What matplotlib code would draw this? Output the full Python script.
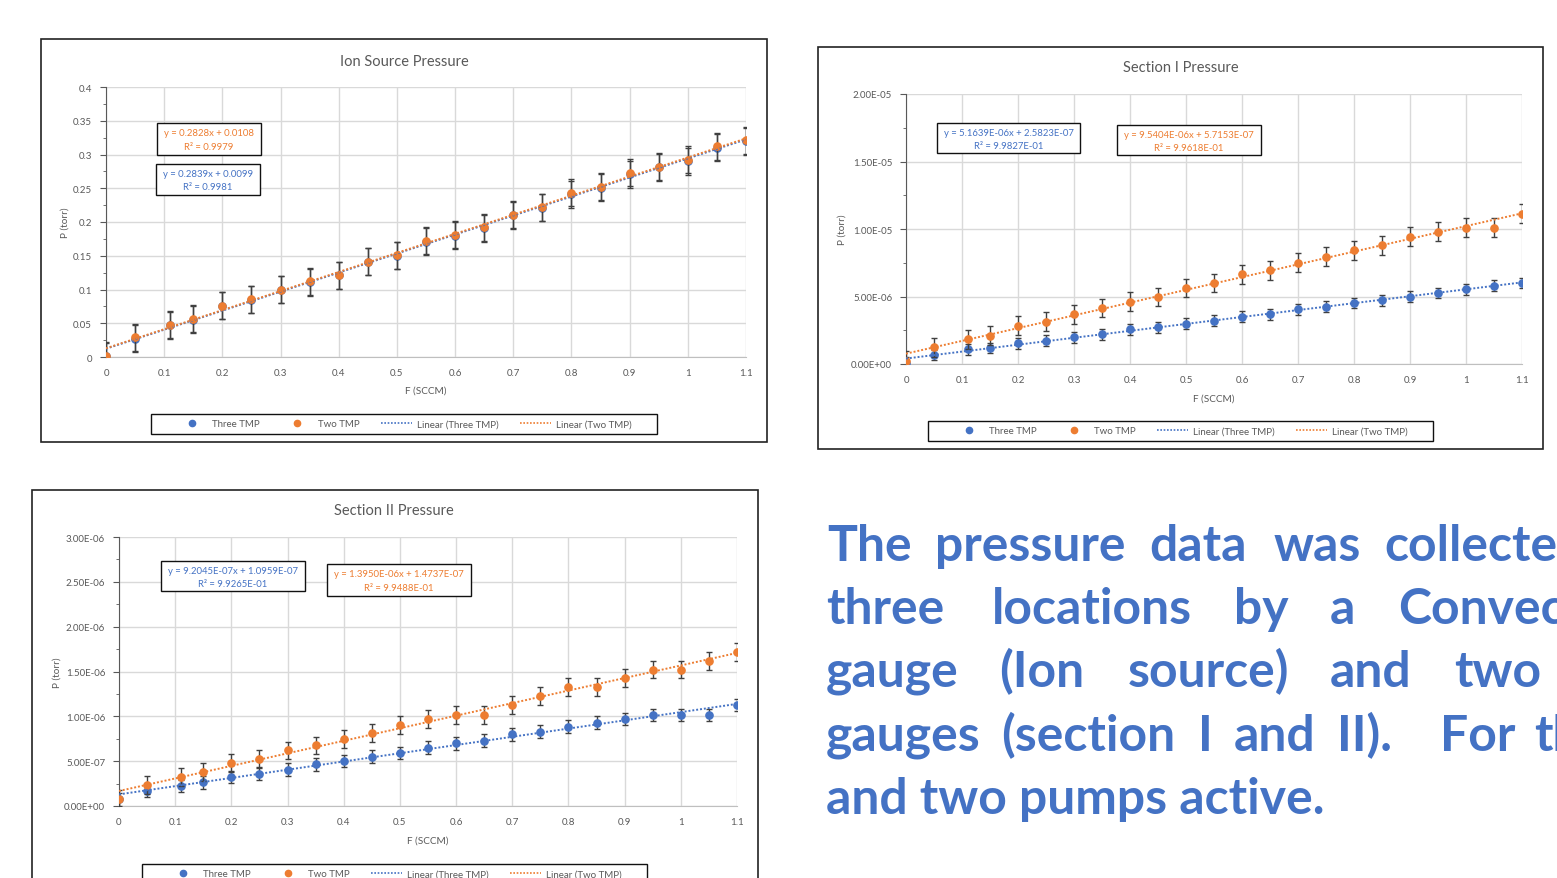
import numpy as np
import matplotlib
matplotlib.use("Agg")
import matplotlib.pyplot as plt
from matplotlib.patches import Rectangle
from matplotlib.lines import Line2D
import matplotlib.ticker as mt

# ---------------- data ----------------
flow = [0, 0.05, 0.11, 0.15, 0.2, 0.25, 0.3, 0.35, 0.4, 0.45, 0.5, 0.55,
        0.6, 0.65, 0.7, 0.75, 0.8, 0.85, 0.9, 0.95, 1.0, 1.05, 1.1]

ion_three = [0.001, 0.027, 0.047, 0.055, 0.076, 0.085, 0.100, 0.111, 0.121, 0.141, 0.150, 0.171,
             0.180, 0.191, 0.210, 0.221, 0.241, 0.251, 0.271, 0.281, 0.290, 0.310, 0.320]
ion_two = [0.0015, 0.029, 0.048, 0.057, 0.076, 0.0855, 0.100, 0.112, 0.121, 0.141, 0.151, 0.172,
           0.181, 0.192, 0.211, 0.222, 0.243, 0.252, 0.273, 0.282, 0.292, 0.312, 0.321]
ion_err_three = 0.02
ion_err_two = 0.02

s1_three = [0.10e-6, 0.66e-6, 1.08e-6, 1.18e-6, 1.52e-6, 1.72e-6, 1.99e-6, 2.19e-6, 2.56e-6, 2.73e-6,
            3.00e-6, 3.22e-6, 3.49e-6, 3.69e-6, 4.05e-6, 4.23e-6, 4.52e-6, 4.72e-6, 4.99e-6, 5.26e-6,
            5.53e-6, 5.80e-6, 6.00e-6]
s1_two = [0.25e-6, 1.23e-6, 1.82e-6, 2.09e-6, 2.85e-6, 3.12e-6, 3.69e-6, 4.15e-6, 4.62e-6, 4.96e-6,
          5.63e-6, 6.00e-6, 6.66e-6, 6.95e-6, 7.49e-6, 7.96e-6, 8.43e-6, 8.80e-6, 9.43e-6, 9.80e-6,
          10.1e-6, 10.1e-6, 11.13e-6]
s1_err_three = 0.4e-6
s1_err_two = 0.7e-6

s2_three = [0.75e-7, 1.68e-7, 2.24e-7, 2.65e-7, 3.21e-7, 3.62e-7, 4.07e-7, 4.63e-7, 5.04e-7, 5.49e-7,
            5.90e-7, 6.50e-7, 7.00e-7, 7.30e-7, 8.00e-7, 8.30e-7, 8.85e-7, 9.30e-7, 9.70e-7, 10.15e-7,
            10.15e-7, 10.15e-7, 11.27e-7]
s2_two = [0.75e-7, 2.39e-7, 3.21e-7, 3.77e-7, 4.78e-7, 5.19e-7, 6.19e-7, 6.75e-7, 7.46e-7, 8.17e-7,
          8.99e-7, 9.74e-7, 10.1e-7, 10.1e-7, 11.27e-7, 12.28e-7, 13.25e-7, 13.25e-7, 14.25e-7,
          15.22e-7, 15.22e-7, 16.2e-7, 17.2e-7]
s2_err_three = 0.7e-7
s2_err_two = 1.0e-7

titles = ["Ion Source Pressure", "Section I Pressure", "Section II Pressure"]
series_names = ["Three TMP", "Two TMP"]
x_label = "F (SCCM)"
y_label = "P (torr)"
x_ticks = [0, 0.1, 0.2, 0.3, 0.4, 0.5, 0.6, 0.7, 0.8, 0.9, 1.0, 1.1]
ion_yticks = [0, 0.05, 0.1, 0.15, 0.2, 0.25, 0.3, 0.35, 0.4]
s1_yticks = [0, 5e-6, 1e-5, 1.5e-5, 2e-5]
s2_yticks = [0, 5e-7, 1e-6, 1.5e-6, 2e-6, 2.5e-6, 3e-6]

# (Three TMP equation, Two TMP equation)
eq_ion = [("y = 0.2839x + 0.0099", "R² = 0.9981"), ("y = 0.2828x + 0.0108", "R² = 0.9979")]
eq_s1 = [("y = 5.1639E-06x + 2.5823E-07", "R² = 9.9827E-01"), ("y = 9.5404E-06x + 5.7153E-07", "R² = 9.9618E-01")]
eq_s2 = [("y = 9.2045E-07x + 1.0959E-07", "R² = 9.9265E-01"), ("y = 1.3950E-06x + 1.4737E-07", "R² = 9.9488E-01")]

text_lines = [
    ["The", "pressure", "data", "was", "collected"],
    ["three", "locations", "by", "a", "Convection"],
    ["gauge", "(Ion", "source)", "and", "two"],
    ["gauges", "(section", "I", "and", "II).", "For", "the"],
    ["and two pumps active."],
]
word_x = [
    [827, 935, 1149, 1274, 1384],
    [826, 992, 1234, 1330, 1398],
    [826, 999, 1128, 1330, 1454],
    [826, 1001, 1198, 1234, 1337, 1440, 1534],
    [826],
]
line_y = [561, 624, 687, 751, 814]

# ---------------- style ----------------
BLUE = "#4472C4"
ORANGE = "#ED7D31"
GRID = "#D9D9D9"
TXT = "#595959"
W, H = 1557, 879

plt.rcParams['font.family'] = ['Lato', 'DejaVu Sans']
fig = plt.figure(figsize=(W / 100, H / 100), dpi=100)


def fx(px):
    return px / W


def fy(py):
    return 1 - py / H


def frame(l, t, r, b):
    fig.add_artist(Rectangle((fx(l), fy(b)), (r - l) / W, (b - t) / H, transform=fig.transFigure,
                             fill=False, edgecolor="#222222", linewidth=1.2))


def eq_box(l, t, r, b, lines, color):
    fig.add_artist(Rectangle((fx(l), fy(b)), (r - l) / W, (b - t) / H, transform=fig.transFigure,
                             facecolor="white", edgecolor="#111111", linewidth=1.0, zorder=5))
    cx = (l + r) / 2
    h = b - t
    fig.text(fx(cx), fy(t + h * 0.30), lines[0], color=color, fontsize=6.8, ha="center", va="center", zorder=6)
    fig.text(fx(cx), fy(t + h * 0.74), lines[1], color=color, fontsize=6.8, ha="center", va="center", zorder=6)


def chart(box, ydata, errs, yticks, yfmt, title_xy, xlab_y, ylab_x, legend_box):
    l, t, r, b = box
    ax = fig.add_axes([fx(l), fy(b), (r - l) / W, (b - t) / H])
    ax.set_xlim(0, 1.1)
    ax.set_ylim(yticks[0], yticks[-1])
    ax.set_xticks(x_ticks)
    ax.set_yticks(yticks)
    ax.xaxis.set_major_formatter(mt.FuncFormatter(lambda v, p: f"{round(v, 2):g}"))
    ax.yaxis.set_major_formatter(mt.FuncFormatter(yfmt))
    ax.yaxis.set_minor_locator(mt.AutoMinorLocator(2))
    ax.grid(True, color=GRID, linewidth=1.0)
    ax.set_axisbelow(True)
    for s in ["top", "right"]:
        ax.spines[s].set_visible(False)
    ax.spines["bottom"].set_color("#BFBFBF")
    ax.spines["left"].set_color("#595959")
    ax.tick_params(axis="x", length=0, labelsize=7.0, labelcolor=TXT, pad=8)
    ax.tick_params(axis="y", which="major", length=4, color="#595959", labelsize=7.0, labelcolor=TXT, pad=6)
    ax.tick_params(axis="y", which="minor", length=2.5, color="#595959")
    x = np.array(flow)
    for yd, e, c, z in zip(ydata, errs, [BLUE, ORANGE], [3, 4]):
        ax.errorbar(x, yd, yerr=e, fmt="o", color=c, markersize=5.2, ecolor="#404040",
                    elinewidth=1.0, capsize=2.2, capthick=1.0, zorder=z)
    for yd, c in zip(ydata, [BLUE, ORANGE]):
        k, m = np.polyfit(x, np.array(yd), 1)
        xx = np.array([0, 1.1])
        ax.plot(xx, k * xx + m, linestyle=(0, (1, 1)), color=c, linewidth=1.4, zorder=5)
    fig.text(fx(title_xy[0]), fy(title_xy[1]), title_xy[2], fontsize=10.5, color=TXT, ha="center", va="center")
    fig.text(fx((l + r) / 2), fy(xlab_y), x_label, fontsize=7.2, color=TXT, ha="center", va="center")
    fig.text(fx(ylab_x), fy((t + b) / 2), y_label, fontsize=7.2, color=TXT, ha="center", va="center", rotation=90)
    handles = [Line2D([], [], marker="o", linestyle="none", color=BLUE, markersize=4.5),
               Line2D([], [], marker="o", linestyle="none", color=ORANGE, markersize=4.5),
               Line2D([], [], linestyle=(0, (1, 1)), color=BLUE, linewidth=1.2),
               Line2D([], [], linestyle=(0, (1, 1)), color=ORANGE, linewidth=1.2)]
    labels = series_names + [f"Linear ({n})" for n in series_names]
    ll, lt, lr, lb = legend_box
    frame_rect = Rectangle((fx(ll), fy(lb)), (lr - ll) / W, (lb - lt) / H, transform=fig.transFigure,
                           fill=False, edgecolor="#111111", linewidth=1.0)
    fig.add_artist(frame_rect)
    fig.legend(handles, labels, loc="center", ncol=4,
               bbox_to_anchor=(fx((ll + lr) / 2), fy((lt + lb) / 2)),
               bbox_transform=fig.transFigure, frameon=False,
               fontsize=7.0, handlelength=3.2, handletextpad=0.5,
               borderpad=0.2, labelcolor=TXT, columnspacing=2.2)
    return ax


# frames
frame(41, 40, 767, 443)
frame(818, 48, 1543, 450)
frame(32, 491, 758, 900)

chart((106, 88, 746, 358), [ion_three, ion_two], [ion_err_three, ion_err_two], ion_yticks,
      lambda v, p: f"{round(v, 3):g}", (404, 62, titles[0]), 391, 65, (151, 415, 657, 435))
chart((906, 95, 1522, 365), [s1_three, s1_two], [s1_err_three, s1_err_two], s1_yticks,
      lambda v, p: f"{v:.2E}", (1181, 68, titles[1]), 399, 842, (928, 422, 1433, 442))
chart((119, 538, 737, 807), [s2_three, s2_two], [s2_err_three, s2_err_two], s2_yticks,
      lambda v, p: f"{v:.2E}", (394, 511, titles[2]), 841, 57, (142, 865, 647, 885))

eq_box(157, 124, 261, 156, eq_ion[1], ORANGE)
eq_box(156, 165, 260, 196, eq_ion[0], BLUE)
eq_box(937, 124, 1080, 154, eq_s1[0], BLUE)
eq_box(1117, 126, 1261, 156, eq_s1[1], ORANGE)
eq_box(161, 562, 305, 592, eq_s2[0], BLUE)
eq_box(327, 565, 471, 597, eq_s2[1], ORANGE)

# paragraph text
renderer = fig.canvas.get_renderer()
probe = fig.text(0, 0, text_lines[4][0], fontsize=30, fontweight="bold")
wpx = probe.get_window_extent(renderer).width
probe.remove()
fs = 30 * 498 / wpx
for words, xs, y in zip(text_lines, word_x, line_y):
    for wd, x in zip(words, xs):
        fig.text(fx(x), fy(y), wd, fontsize=fs, fontweight="bold", color=BLUE, ha="left", va="baseline")

fig.savefig("out.png", dpi=100)
